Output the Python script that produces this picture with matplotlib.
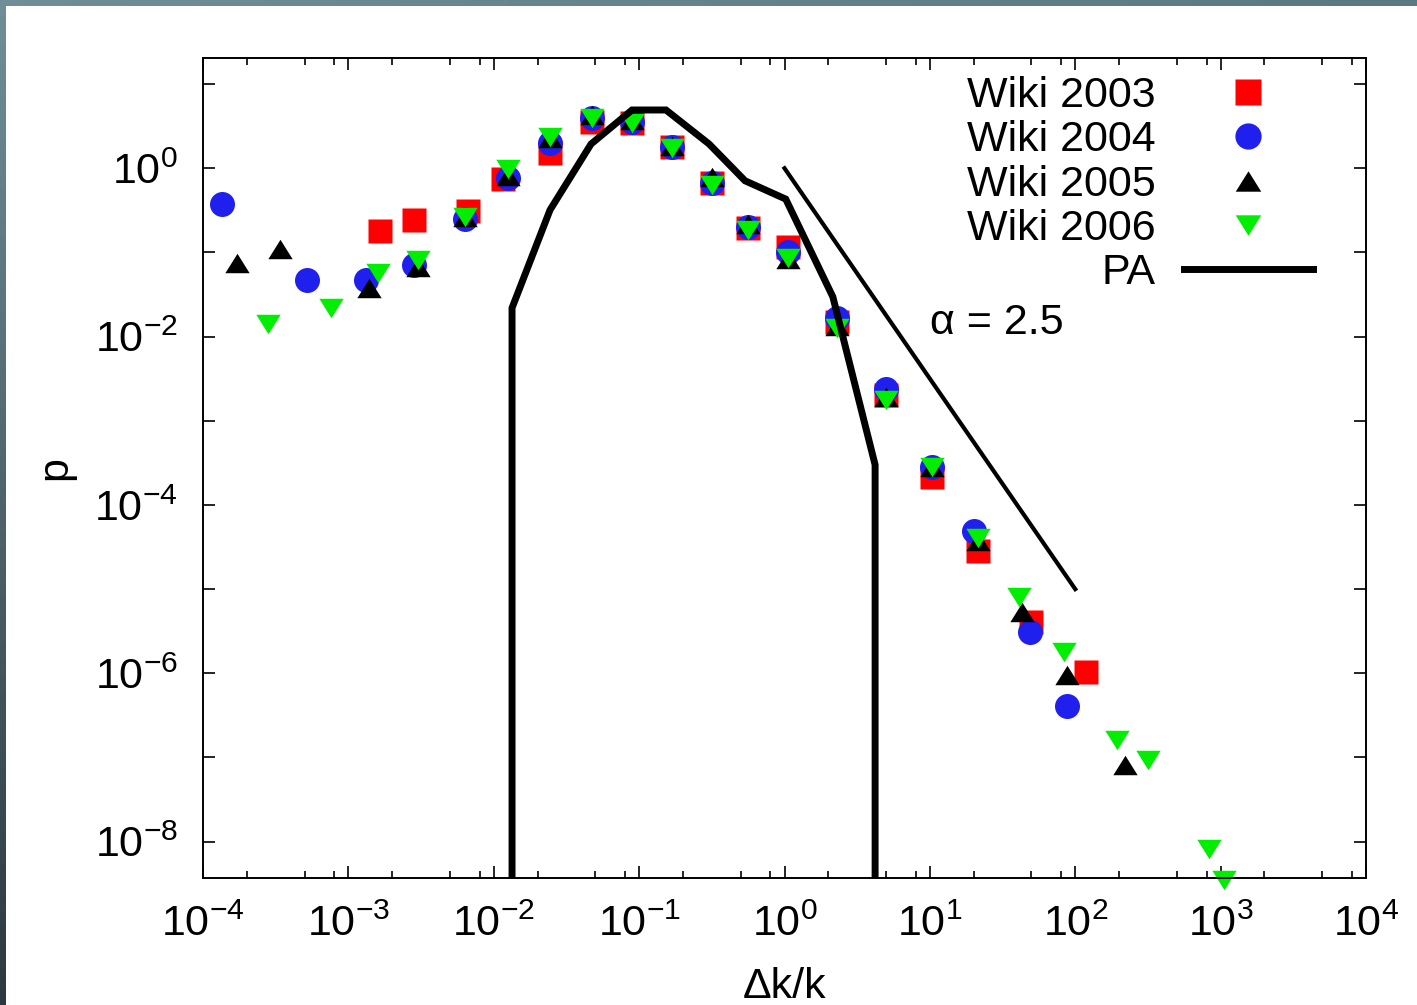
import numpy as np
import matplotlib
matplotlib.use('Agg')
import matplotlib.pyplot as plt
from matplotlib.patches import Rectangle
from matplotlib.path import Path
from matplotlib.ticker import FixedLocator, NullFormatter, NullLocator

plt.rcParams['font.family'] = ['Liberation Sans', 'DejaVu Sans']
plt.rcParams['mathtext.fontset'] = 'custom'
plt.rcParams['mathtext.rm'] = 'Liberation Sans'
plt.rcParams['mathtext.it'] = 'Liberation Sans:italic'
plt.rcParams['mathtext.bf'] = 'Liberation Sans:bold'

# --- data ---
x2003 = [1.65e-3, 2.82e-3, 6.65e-3, 0.0116, 0.0244, 0.0474, 0.0893, 0.168, 0.317,
         0.561, 1.057, 2.30, 4.99, 10.3, 21.4, 49.7, 118.6]
p2003 = [0.18, 0.243, 0.311, 0.746, 1.52, 3.55, 3.45, 1.79, 0.67,
         0.195, 0.116, 0.015, 2.04e-3, 2.16e-4, 2.8e-5, 4.1e-6, 1.05e-6]

x2004 = [1.345e-4, 5.19e-4, 1.32e-3, 2.82e-3, 6.34e-3, 0.0125, 0.0244, 0.0474, 0.0893,
         0.168, 0.317, 0.561, 1.057, 2.30, 4.99, 10.3, 20.1, 48.9, 87.8]
p2004 = [0.375, 0.047, 0.047, 0.071, 0.25, 0.77, 2.0, 3.9, 3.5,
         1.8, 0.67, 0.2, 0.1, 0.0167, 2.4e-3, 2.84e-4, 4.9e-5, 3.1e-6, 4.1e-7]

x2005 = [1.71e-4, 3.39e-4, 1.39e-3, 3.01e-3, 6.34e-3, 0.0125, 0.0244, 0.0474, 0.0893,
         0.168, 0.317, 0.561, 1.057, 2.30, 4.99, 10.3, 21.4, 43.0, 87.8, 219.8]
p2005 = [0.075, 0.11, 0.038, 0.068, 0.26, 0.8, 2.3, 4.3, 3.7,
         1.85, 0.79, 0.22, 0.084, 0.0135, 1.9e-3, 2.8e-4, 3.7e-5, 5.4e-6, 9.5e-7, 8.1e-8]

x2006 = [2.80e-4, 7.59e-4, 1.60e-3, 3.01e-3, 6.34e-3, 0.0125, 0.0244, 0.0474, 0.0893,
         0.168, 0.317, 0.561, 1.057, 2.30, 4.99, 10.3, 21.4, 41.0, 83.7, 193.7,
         316, 832, 1055]
p2006 = [0.0141, 0.0219, 0.057, 0.082, 0.264, 0.98, 2.35, 3.95, 3.45,
         1.74, 0.63, 0.185, 0.086, 0.0127, 1.78e-3, 2.8e-4, 4.1e-5, 8.1e-6, 1.8e-6, 1.62e-7,
         9.4e-8, 8.2e-9, 3.5e-9]

x_pa = [0.01336, 0.01336, 0.0244, 0.0467, 0.0894, 0.153, 0.303, 0.535, 1.02, 2.15, 4.2, 4.2]
p_pa = [1e-12, 0.0219, 0.32, 1.94, 4.92, 4.92, 1.94, 0.71, 0.43, 0.0297, 3.0e-4, 1e-12]

x_alpha = [1.0, 100.0]
p_alpha = [1.0, 1.0e-5]

xtick_exp = list(range(-4, 5))
ytick_exp = list(range(-8, 2))

W, H = 1417, 1005
fig = plt.figure(figsize=(W / 100, H / 100), dpi=100)

# slide frame behind the white page
bg = fig.add_axes([0, 0, 1, 1], zorder=-10)
gy, gx = np.mgrid[0:1:64j, 0:1:64j]
c0 = np.array([112, 142, 152]) / 255
cb = np.array([44, 57, 63]) / 255
cr = np.array([92, 120, 129]) / 255
grad = c0 + gy[..., None] * (cb - c0) + gx[..., None] * (cr - c0)
bg.imshow(np.clip(grad, 0, 1), extent=[0, 1, 0, 1], aspect='auto', origin='upper')
bg.add_patch(Rectangle((6 / W, 0), 1, 1 - 6 / H, color='white', lw=0))
bg.set_xlim(0, 1)
bg.set_ylim(0, 1)
bg.axis('off')

ax = fig.add_axes([203 / W, 1 - 878 / H, (1366 - 203) / W, (878 - 58) / H])

up_tri = Path([(-1, -0.8), (1, -0.8), (0, 0.8), (-1, -0.8)],
              [Path.MOVETO, Path.LINETO, Path.LINETO, Path.CLOSEPOLY])
down_tri = Path([(-1, 0.8), (1, 0.8), (0, -0.8), (-1, 0.8)],
                [Path.MOVETO, Path.LINETO, Path.LINETO, Path.CLOSEPOLY])

ax.plot(x2003, p2003, ls='none', marker='s', ms=17.5, color='#ff0000', mec='none', label='Wiki 2003')
ax.plot(x2004, p2004, ls='none', marker='o', ms=18, color='#2020ee', mec='none', label='Wiki 2004')
ax.plot(x2005, p2005, ls='none', marker=up_tri, ms=17.5, color='black', mec='none', label='Wiki 2005')
ax.plot(x2006, p2006, ls='none', marker=down_tri, ms=17.5, color='#00ee00', mec='none',
        label='Wiki 2006', clip_on=False)
ax.plot(x_pa, p_pa, color='black', lw=5, label='PA', solid_joinstyle='miter')
ax.plot(x_alpha, p_alpha, color='black', lw=3)

ax.text(10, 0.0145, 'α = 2.5', fontsize=31, va='center', ha='left')

ax.set_xscale('log')
ax.set_yscale('log')
ax.set_xlim(1e-4, 1e4)
ax.set_ylim(3.7e-9, 20.4)

ax.set_xticks([10.0 ** k for k in xtick_exp])
ax.set_xticklabels([r'$\mathregular{10^{%d}}$' % k for k in xtick_exp])
ax.xaxis.set_minor_locator(FixedLocator([m * 10.0 ** k for k in xtick_exp[:-1] for m in (2, 5, 8)]))
ax.xaxis.set_minor_formatter(NullFormatter())

ax.set_yticks([10.0 ** k for k in ytick_exp])
ax.set_yticklabels([r'$\mathregular{10^{%d}}$' % k if k % 2 == 0 else '' for k in ytick_exp])
ax.yaxis.set_minor_locator(NullLocator())

ax.tick_params(which='both', direction='in', top=True, right=True, width=1.2, labelsize=31)
ax.tick_params(which='major', length=8.5)
ax.tick_params(which='minor', length=5)
ax.tick_params(axis='x', pad=19)
ax.tick_params(axis='y', pad=18)
for s in ax.spines.values():
    s.set_linewidth(1.4)

ax.set_xlabel('Δk/k', fontsize=31, labelpad=16)
ax.set_ylabel('p', fontsize=31, labelpad=14)

ax.legend(loc='upper right', bbox_to_anchor=(1313 / W, 1 - 76 / H), bbox_transform=fig.transFigure,
          frameon=False, fontsize=31, markerfirst=False, borderpad=0, borderaxespad=0,
          handlelength=3.0, handletextpad=0.65, labelspacing=0.1, numpoints=1, markerscale=1.05)

fig.savefig('out.png', dpi=100)
